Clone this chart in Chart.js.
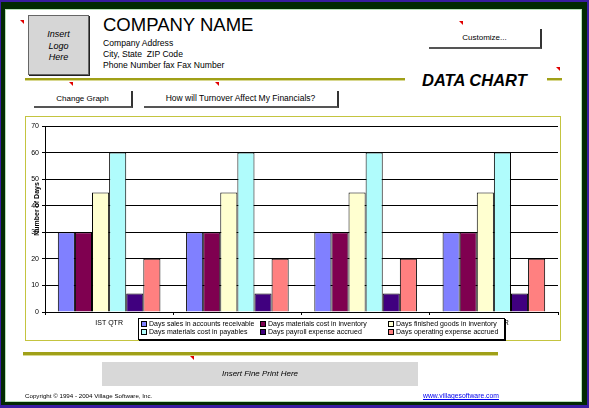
<!DOCTYPE html>
<html>
<head>
<meta charset="utf-8">
<script src="https://cdn.jsdelivr.net/npm/chart.js@4"></script>
<style>
  body { margin: 0; width: 589px; height: 408px; position: relative; overflow: hidden; font-family: "Liberation Sans", Arial, sans-serif; color: #000; }
  .abs { position: absolute; }
  .btn { position: absolute; background: #fff; border-right: 2px solid #333; border-bottom: 2px solid #555; box-sizing: border-box; font-size: 8px; text-align: center; }
  .olive { position: absolute; background: #a0a018; border-bottom: 1px solid #d8d890; }
  .mark { position: absolute; width: 0; height: 0; border-top: 4px solid #e00000; border-left: 4px solid transparent; }
  #chartBox { position: absolute; left: 25px; top: 116px; width: 536px; height: 225px; border: 1px solid #c4c440; box-sizing: border-box; background: #fff; }
  #legend { position: absolute; left: 138px; top: 318px; width: 367px; height: 22px; border: 1px solid #000; box-sizing: border-box; background: #fff; box-shadow: 1px 1px 0 #000; font-size: 7px; }
  #legend .item { position: absolute; white-space: nowrap; line-height: 8px; }
  #legend .sw { display: inline-block; width: 4px; height: 4px; border: 1px solid #000; margin-right: 2px; vertical-align: -1px; }
</style>
</head>
<body>
<!-- window frame -->
<div class="abs" style="left:0;top:0;width:589px;height:408px;background:#3a1ca0;"></div>
<div class="abs" style="left:1px;top:2px;width:586px;height:403px;background:#022a02;"></div>
<div class="abs" style="left:5px;top:9px;width:577px;height:393px;background:#b8e0b8;"></div>
<div class="abs" style="left:6px;top:10px;width:575px;height:391px;background:#fff;"></div>

<!-- header -->
<div class="abs" style="left:28px;top:15px;width:61px;height:60px;background:#d6d6d6;border:1px solid #666;box-sizing:border-box;box-shadow:1px 1px 0 #222;font-size:9px;font-style:italic;text-align:center;line-height:11.5px;padding-top:13px;">Insert<br>Logo<br>Here</div>
<div class="abs" style="left:103px;top:15px;font-size:18.5px;line-height:19px;white-space:nowrap;">COMPANY NAME</div>
<div class="abs" style="left:103px;top:38px;font-size:8.6px;line-height:11px;white-space:nowrap;">Company Address<br>City, State&nbsp; ZIP Code<br>Phone Number fax Fax Number</div>
<div class="btn" style="left:429px;top:29px;width:113px;height:20px;line-height:18px;">Customize...</div>

<div class="olive" style="left:25px;top:78px;width:380px;height:2px;"></div>
<div class="abs" style="left:422px;top:71px;font-size:16.5px;line-height:18px;font-weight:bold;font-style:italic;white-space:nowrap;">DATA CHART</div>
<div class="olive" style="left:547px;top:78px;width:15px;height:2px;"></div>

<div class="btn" style="left:34px;top:91px;width:99px;height:17px;line-height:15px;">Change Graph</div>
<div class="btn" style="left:144px;top:91px;width:195px;height:17px;line-height:15px;font-size:8.5px;">How will Turnover Affect My Financials?</div>

<!-- chart -->
<div id="chartBox"><canvas id="dataChart" width="534" height="223"></canvas></div>
<div class="abs" style="left:36px;top:209px;width:0;height:0;">
  <div style="position:absolute;transform:translate(-50%,-50%) rotate(-90deg);font-size:7px;font-weight:bold;white-space:nowrap;">Number of Days</div>
</div>
<div id="legend"></div>

<!-- footer -->
<div class="olive" style="left:23px;top:352px;width:475px;height:3px;"></div>
<div class="abs" style="left:102px;top:362px;width:316px;height:24px;background:#d8d8d8;font-size:8px;font-style:italic;text-align:center;line-height:24px;">Insert Fine Print Here</div>
<div class="abs" style="left:25px;top:392px;font-size:6.2px;line-height:8px;white-space:nowrap;">Copyright &copy; 1994 - 2004 Village Software, Inc.</div>
<div class="abs" style="left:423px;top:392px;font-size:6.8px;line-height:8px;white-space:nowrap;color:#0000ee;text-decoration:underline;">www.villagesoftware.com</div>

<!-- comment markers -->
<div class="mark" style="left:20px;top:20px;"></div>
<div class="mark" style="left:69px;top:82px;"></div>
<div class="mark" style="left:215px;top:82px;"></div>
<div class="mark" style="left:459px;top:21px;"></div>
<div class="mark" style="left:556px;top:67px;"></div>
<div class="mark" style="left:190px;top:356px;"></div>

<script>
const quarters = ['IST QTR', '2ND QTR', '3RD QTR', '4TH QTR'];
const yTicks = [0, 10, 20, 30, 40, 50, 60, 70];

const seriesLabels = [
  'Days sales in accounts receivable',
  'Days materials cost in inventory',
  'Days finished goods in inventory',
  'Days materials cost in payables',
  'Days payroll expense accrued',
  'Days operating expense accrued'
];
const seriesColors = ['#8080ff', '#7f0050', '#ffffd0', '#b0fcfc', '#40007f', '#ff8080'];

const receivable = [30, 30, 30, 30];
const inventory = [30, 30, 30, 30];
const finishedGoods = [45, 45, 45, 45];
const payables = [60, 60, 60, 60];
const payroll = [7, 7, 7, 7];
const operating = [20, 20, 20, 20];

const seriesValues = [receivable, inventory, finishedGoods, payables, payroll, operating];

const datasets = seriesValues.map((vals, i) => ({
  label: seriesLabels[i],
  data: vals,
  backgroundColor: seriesColors[i],
  borderColor: '#000',
  borderWidth: 1,
  categoryPercentage: 0.8,
  barPercentage: 1.0
}));

const tickFont = { family: 'Liberation Sans, Arial, sans-serif', size: 7 };

new Chart(document.getElementById('dataChart').getContext('2d'), {
  type: 'bar',
  data: { labels: quarters, datasets: datasets },
  options: {
    responsive: false,
    animation: false,
    layout: { padding: { top: 9, right: 2, left: 0, bottom: 0 } },
    plugins: { legend: { display: false }, tooltip: { enabled: false } },
    scales: {
      x: {
        grid: { offset: true, drawOnChartArea: false, tickLength: 3, color: '#000' },
        border: { color: '#000' },
        ticks: { font: tickFont, color: '#000', padding: 4, maxRotation: 0, autoSkip: false },
        afterFit: (scale) => { scale.height = 28; }
      },
      y: {
        min: yTicks[0],
        max: yTicks[yTicks.length - 1],
        afterBuildTicks: (scale) => { scale.ticks = yTicks.map(v => ({ value: v })); },
        grid: { color: '#000', tickLength: 3 },
        border: { color: '#000' },
        ticks: { font: tickFont, color: '#000', padding: 3 },
        afterFit: (scale) => { scale.width = 19; }
      }
    }
  }
});

// legend box, two rows of three
const legend = document.getElementById('legend');
const colLeft = [2, 121, 249];
const rowTop = [1, 9];
seriesLabels.forEach((lab, i) => {
  const item = document.createElement('div');
  item.className = 'item';
  item.style.left = colLeft[i % 3] + 'px';
  item.style.top = rowTop[Math.floor(i / 3)] + 'px';
  item.innerHTML = '<span class="sw" style="background:' + seriesColors[i] + '"></span>' + lab;
  legend.appendChild(item);
});
</script>
</body>
</html>
